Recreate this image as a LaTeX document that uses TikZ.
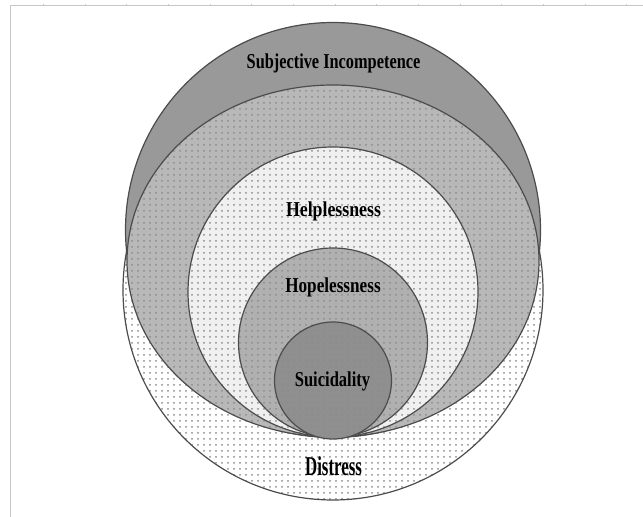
\documentclass[tikz,border=0pt]{standalone}
\usepackage{fontspec}
\setmainfont{Liberation Serif}
\usepackage{graphicx}
\usetikzlibrary{patterns}

\tikzset{
  ring/.style={draw=black!70, line width=0.6pt},
  spotted/.style={ring, preaction={fill=#1}, pattern=dots, pattern color=black!45},
  lbl/.style={font=\fontsize{10.6}{12}\selectfont\bfseries, anchor=base, inner sep=0pt},
  frameline/.style={draw=black!22, line width=0.5pt}
}
\newcommand{\narrow}[2]{\scalebox{#1}[1]{#2}}

\begin{document}
\begin{tikzpicture}[x=0.5pt, y=-0.5pt]
	\useasboundingbox (0,0) rectangle (643,517);
	% page edge
	\draw[frameline] (10,517) -- (10,6) -- (643,6);
	\foreach \k in {1,...,15}
		\draw[frameline] (1.67+41.67*\k,4) -- (1.67+41.67*\k,6);

	% rings, outermost first
	\path[spotted=white] (333,290) circle[radius=210];
	\path[ring, fill=black!40] (333,230) circle[radius=207.5];
	\path[spotted=black!28] (333,261) ellipse[x radius=206, y radius=176];
	\path[spotted=black!6] (333,292) circle[radius=145];
	\path[spotted=black!31] (333,342.5) circle[radius=94.5];
	\path[spotted=black!44] (333,380.5) circle[radius=58.5];

	\node(inc)[lbl] at (333.5,69) {\narrow{0.77}{Subjective Incompetence}};
	\node(help)[lbl] at (333.5,217) {\narrow{0.84}{Helplessness}};
	\node(hope)[lbl] at (333,293) {\narrow{0.81}{Hopelessness}};
	\node(sui)[lbl] at (332.5,387) {\narrow{0.78}{Suicidality}};
	\node(dis)[lbl, font=\fontsize{13.6}{15}\selectfont\bfseries] at (333.5,476) {\narrow{0.62}{Distress}};
\end{tikzpicture}
\end{document}
